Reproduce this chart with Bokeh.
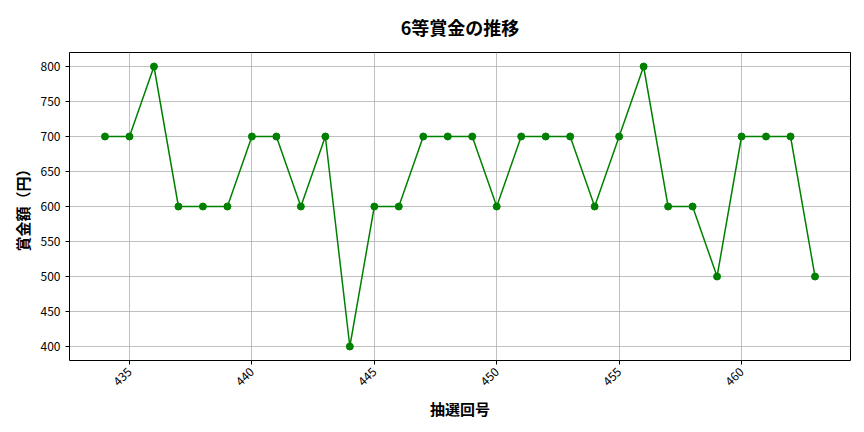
import math
from bokeh.plotting import figure
from bokeh.models import Range1d, FixedTicker
from bokeh.embed import file_html
from bokeh.resources import INLINE

draws = list(range(434, 464))
prizes = [700, 700, 800, 600, 600, 600, 700, 700, 600, 700,
          400, 600, 600, 700, 700, 700, 600, 700, 700, 700,
          600, 700, 800, 600, 600, 500, 700, 700, 700, 500]
x_ticks = [435, 440, 445, 450, 455, 460]
y_ticks = [400, 450, 500, 550, 600, 650, 700, 750, 800]

FONT = "Noto Sans CJK JP"

xspan = max(draws) - min(draws)
yspan = max(prizes) - min(prizes)
p = figure(width=856, height=424, output_backend="svg", toolbar_location=None,
           x_range=Range1d(min(draws) - 0.05 * xspan, max(draws) + 0.05 * xspan),
           y_range=Range1d(min(prizes) - 0.05 * yspan, max(prizes) + 0.05 * yspan),
           min_border_left=69, min_border_right=6, min_border_top=52, min_border_bottom=64)

p.line(draws, prizes, line_color="green", line_width=1.5)
p.scatter(draws, prizes, size=7, fill_color="green", line_color="green")

p.title.text = "6等賞金の推移"
p.title.text_font = FONT
p.title.text_font_size = "18px"
p.title.text_font_style = "bold"
p.title.text_color = "black"
p.title.align = "center"
p.title.vertical_align = "top"
p.title.offset = 0
p.title.standoff = 22

p.xaxis.axis_label = "抽選回号"
p.yaxis.axis_label = "賞金額（円）"
for ax in (p.xaxis, p.yaxis):
    ax.axis_label_text_font = FONT
    ax.axis_label_text_font_size = "15px"
    ax.axis_label_text_font_style = "bold"
    ax.axis_label_text_color = "black"
    ax.major_label_text_font = FONT
    ax.major_label_text_font_size = "12px"
    ax.major_label_text_color = "black"
    ax.minor_tick_line_color = None
    ax.major_tick_out = 4
    ax.major_tick_in = 0
    ax.axis_line_color = None
    ax.major_tick_line_color = "black"

p.xaxis.ticker = FixedTicker(ticks=x_ticks)
p.yaxis.ticker = FixedTicker(ticks=y_ticks)
p.xaxis.major_label_orientation = math.pi / 4

p.grid.grid_line_color = "#b0b0b0"
p.grid.grid_line_width = 0.8
p.outline_line_color = "black"
p.outline_line_width = 1

open("out.html", "w").write(file_html(p, INLINE))
